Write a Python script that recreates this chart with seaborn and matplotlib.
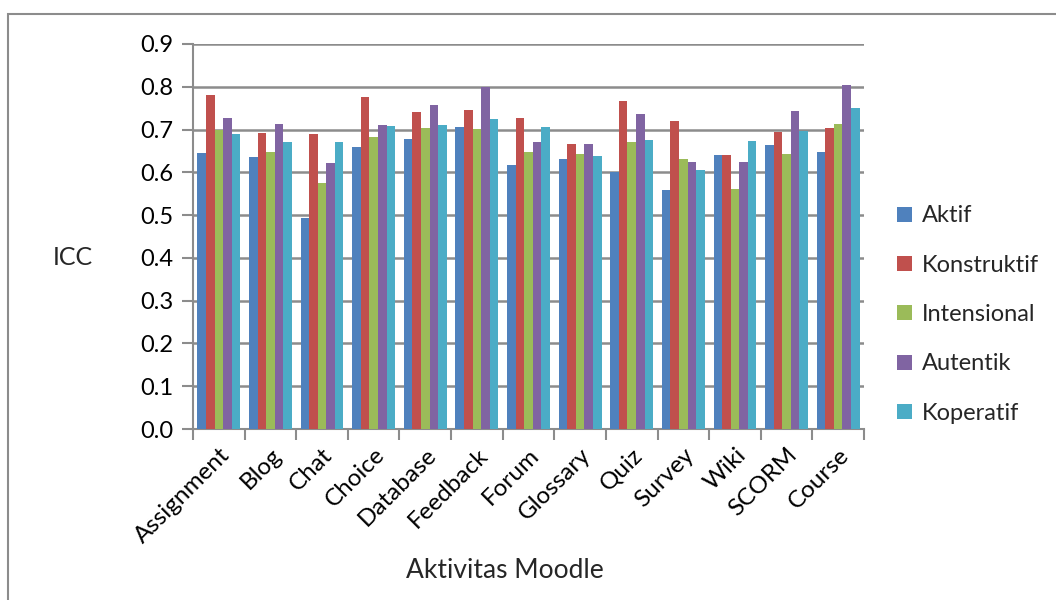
import matplotlib
matplotlib.use("Agg")
import matplotlib.pyplot as plt
from matplotlib.patches import Rectangle
import numpy as np
import pandas as pd
import seaborn as sns

categories = ["Assignment", "Blog", "Chat", "Choice", "Database", "Feedback",
              "Forum", "Glossary", "Quiz", "Survey", "Wiki", "SCORM", "Course"]
series_names = ["Aktif", "Konstruktif", "Intensional", "Autentik", "Koperatif"]

aktif       = [0.645, 0.637, 0.494, 0.660, 0.678, 0.707, 0.618, 0.631, 0.600, 0.559, 0.641, 0.664, 0.647]
konstruktif = [0.780, 0.692, 0.690, 0.775, 0.742, 0.745, 0.728, 0.667, 0.766, 0.719, 0.641, 0.695, 0.704]
intensional = [0.700, 0.648, 0.575, 0.683, 0.703, 0.701, 0.648, 0.642, 0.670, 0.631, 0.562, 0.643, 0.713]
autentik    = [0.728, 0.713, 0.621, 0.710, 0.757, 0.800, 0.672, 0.667, 0.737, 0.625, 0.623, 0.744, 0.804]
koperatif   = [0.690, 0.672, 0.672, 0.709, 0.710, 0.724, 0.706, 0.639, 0.676, 0.606, 0.674, 0.696, 0.751]

y_ticks = [0.0, 0.1, 0.2, 0.3, 0.4, 0.5, 0.6, 0.7, 0.8, 0.9]
colors = ["#4F81BD", "#C0504D", "#9BBB59", "#8064A2", "#4BACC6"]

series_values = [aktif, konstruktif, intensional, autentik, koperatif]
df = pd.DataFrame({
    "Aktivitas": np.tile(categories, len(series_names)),
    "Seri": np.repeat(series_names, len(categories)),
    "ICC": np.concatenate(series_values),
})

sns.set_theme(style="white")
plt.rcParams["font.family"] = ["Lato", "DejaVu Sans"]

FS = 17
W, H = 1056, 600
fig = plt.figure(figsize=(W / 100, H / 100), dpi=100)
ax = fig.add_axes([193 / W, 1 - 429 / H, (864 - 193) / W, (429 - 44) / H])

sns.barplot(data=df, x="Aktivitas", y="ICC", hue="Seri", order=categories,
            hue_order=series_names, palette=colors, width=0.83, gap=0,
            saturation=1, errorbar=None, ax=ax, zorder=3,
            edgecolor="none", linewidth=0)

grid_c = "#8c8c8c"
ax.set_ylim(0, 0.9)
ax.set_xlim(-0.5, len(categories) - 0.5)
ax.set_yticks(y_ticks)
ax.set_yticklabels([f"{v:.1f}" for v in y_ticks], fontsize=FS, color="black")
ax.yaxis.grid(True, color=grid_c, lw=1.8, zorder=0)
ax.set_axisbelow(True)

ax.set_xticks(range(len(categories)))
ax.set_xticklabels(categories, rotation=45, ha="right", rotation_mode="anchor",
                   fontsize=17.5, color="black")
ax.set_xticks(np.arange(-0.5, len(categories), 1.0), minor=True)
ax.tick_params(axis="x", which="major", length=0, pad=11, bottom=False)
ax.tick_params(axis="x", which="minor", length=8, width=1.5, color=grid_c,
               direction="out", bottom=True)
ax.tick_params(axis="y", which="major", length=8, width=1.5, color=grid_c,
               pad=6, left=True, direction="out")

for s in ["top", "right"]:
    ax.spines[s].set_visible(False)
for s in ["left", "bottom"]:
    ax.spines[s].set_color(grid_c)
    ax.spines[s].set_linewidth(1.5)

ax.set_xlabel("")
ax.set_ylabel("")
fig.text(73 / W, 1 - 258 / H, "ICC", fontsize=18, ha="center", va="center")
fig.text(505 / W, 1 - 570 / H, "Aktivitas Moodle", fontsize=19, ha="center", va="center")

handles, labels = ax.get_legend_handles_labels()
ax.legend(handles, labels, loc="upper left", bbox_to_anchor=(888 / W, 1 - 196 / H),
          bbox_transform=fig.transFigure, frameon=False, fontsize=FS,
          handlelength=0.6, handleheight=0.6, handletextpad=0.45,
          labelspacing=1.2, borderaxespad=0)

fig.patches.append(Rectangle((8 / W, -0.1), 1.2, 1 - 14 / H + 0.1,
                             transform=fig.transFigure, fill=False,
                             edgecolor="#8c8c8c", lw=1.5))

fig.savefig("out.png", dpi=100)
